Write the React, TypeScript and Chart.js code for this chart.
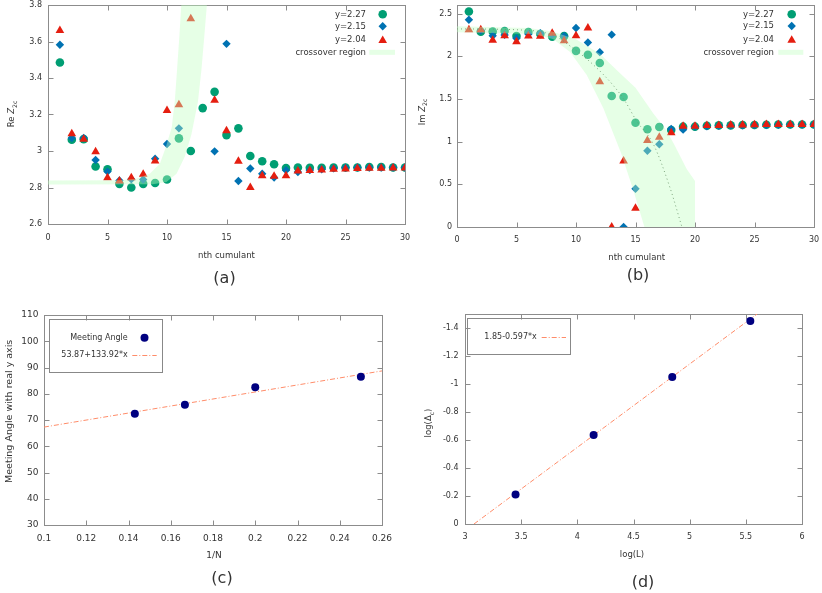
import React, { useEffect, useRef } from 'react';
import { Chart, registerables } from 'chart.js';

Chart.register(...registerables);

// ---------------- DATA ----------------
const cumulantN = [1, 2, 3, 4, 5, 6, 7, 8, 9, 10, 11, 12, 13, 14, 15, 16, 17, 18, 19, 20, 21, 22, 23, 24, 25, 26, 27, 28, 29, 30];

// (a) Re Z2c
const reZ_227 = [3.485, 3.062, 3.065, 2.915, 2.9, 2.82, 2.8, 2.82, 2.825, 2.844, 3.069, 3.0, 3.235, 3.324, 3.087, 3.124, 2.973, 2.944, 2.927, 2.907, 2.91, 2.908, 2.908, 2.91, 2.91, 2.91, 2.912, 2.912, 2.91, 2.91];
const reZ_215 = [3.582, 3.071, 3.071, 2.951, 2.887, 2.838, 2.845, 2.844, 2.958, 3.038, 3.124, null, null, 2.998, 3.587, 2.836, 2.904, 2.875, 2.855, 2.895, 2.885, 2.895, 2.9, 2.905, 2.908, 2.91, 2.91, 2.91, 2.91, 2.91];
const reZ_204 = [3.66, 3.095, 3.064, 2.996, 2.854, 2.836, 2.854, 2.873, 2.945, 3.222, 3.253, 3.725, null, 3.278, 3.111, 2.944, 2.8, 2.865, 2.862, 2.865, 2.89, 2.893, 2.896, 2.9, 2.902, 2.904, 2.905, 2.906, 2.907, 2.907];
const reBandEdge1X = [0, 6, 7.4, 8.55, 9.4, 9.9, 10.4, 10.65, 10.85, 11.05, 11.2];
const reBandEdge1Y = [2.838, 2.84, 2.848, 2.875, 2.93, 3.02, 3.13, 3.27, 3.45, 3.64, 3.8];
const reBandEdge2X = [13.35, 13.15, 12.9, 12.6, 12.05, 11.5, 10.8, 9.95, 8.8, 0];
const reBandEdge2Y = [3.8, 3.64, 3.45, 3.27, 3.09, 2.97, 2.875, 2.83, 2.818, 2.817];

// (b) Im Z2c
const imZ_227 = [2.523, 2.287, 2.29, 2.295, 2.237, 2.284, 2.26, 2.23, 2.235, 2.063, 2.017, 1.92, 1.534, 1.522, 1.221, 1.144, 1.171, 1.135, 1.175, 1.175, 1.185, 1.19, 1.19, 1.195, 1.195, 1.197, 1.2, 1.2, 1.2, 1.2];
const imZ_215 = [2.427, 2.3, 2.24, 2.25, 2.21, 2.26, 2.27, 2.25, 2.237, 2.33, 2.16, 2.048, 2.253, 0, 0.448, 0.893, 0.97, 1.148, 1.14, 1.175, 1.18, 1.185, 1.19, 1.19, 1.195, 1.195, 1.197, 1.2, 1.2, 1.2];
const imZ_204 = [2.31, 2.31, 2.187, 2.24, 2.17, 2.237, 2.233, 2.268, 2.18, 2.24, 2.33, 1.7, 0, 0.773, 0.22, 1.012, 1.051, 1.105, 1.18, 1.18, 1.19, 1.19, 1.195, 1.195, 1.197, 1.2, 1.2, 1.2, 1.2, 1.2];
const imBandEdge1X = [0, 6, 8, 10, 12, 13.7, 15, 16.5, 17.5, 18.2, 19.3, 20, 20];
const imBandEdge1Y = [2.35, 2.33, 2.29, 2.2, 2.03, 1.8, 1.63, 1.33, 1.15, 0.98, 0.68, 0.54, 0];
const imBandEdge2X = [15.75, 14.8, 13.8, 12.3, 10.9, 9.5, 8.1, 6.5, 0];
const imBandEdge2Y = [0, 0.44, 0.86, 1.39, 1.78, 2.05, 2.2, 2.26, 2.28];
const imGuideX = [0, 5, 8, 9.5, 12.2, 14, 15.1, 16.5, 17.9, 18.9];
const imGuideY = [2.32, 2.31, 2.25, 2.12, 1.8, 1.5, 1.24, 0.97, 0.46, 0];

// (c) meeting angle vs 1/N
const invN = [0.143, 0.1667, 0.2, 0.25];
const meetingAngle = [72.4, 75.8, 82.5, 86.5];
const angleFitX = [0.1, 0.26];
const angleFitY = [67.3, 88.7];

// (d) log(Delta_c) vs log(L)
const logL = [3.45, 4.145, 4.845, 5.54];
const logDelta = [-0.21, -0.635, -1.05, -1.45];
const deltaFitX = [3.08, 5.6];
const deltaFitY = [0, -1.5];

// ---------------- STYLE ----------------
const FONT = '"DejaVu Sans", sans-serif';
const TXT = '#333333';
const FRAME = '#8c8c8c';
const GREEN = '#009e73';
const BLUE = '#0072b2';
const RED = '#e51e10';
const NAVY = '#000080';
const FIT = '#ff8c69';
const BAND = 'rgba(192,255,192,0.4)';

const fmt = (v: any) => String(parseFloat(Number(v).toFixed(3)));
const pts = (xs: number[], ys: (number | null)[]) => xs.map((x, i) => ({ x, y: ys[i] }));
const poly = (x1: number[], y1: number[], x2: number[], y2: number[]) => [...pts(x1, y1), ...pts(x2, y2)];

function linAxis(o: { min: number; max: number; step: number; pad: number; size: number; x: boolean; reverse?: boolean }) {
  return {
    type: 'linear',
    position: o.x ? 'bottom' : 'left',
    min: o.min,
    max: o.max,
    reverse: !!o.reverse,
    grid: { display: false, drawTicks: false, tickLength: 0 },
    border: { display: false },
    ticks: {
      stepSize: o.step,
      includeBounds: false,
      padding: o.pad,
      autoSkip: false,
      maxRotation: 0,
      minRotation: 0,
      color: TXT,
      font: { family: FONT, size: o.size },
      callback: (v: any) => fmt(v),
    },
    afterFit: (s: any) => {
      if (o.x) s.height = 30;
      else s.width = 40;
      s.paddingLeft = 0;
      s.paddingRight = 0;
      s.paddingTop = 0;
      s.paddingBottom = 0;
    },
  };
}

const framePlugin = {
  id: 'gnuFrame',
  beforeDatasetsDraw(chart: any) {
    const { ctx, chartArea: a, scales } = chart;
    const L = Math.round(a.left) + 0.5;
    const R = Math.round(a.right) + 0.5;
    const T = Math.round(a.top) + 0.5;
    const B = Math.round(a.bottom) + 0.5;
    ctx.save();
    ctx.strokeStyle = FRAME;
    ctx.lineWidth = 1;
    ctx.strokeRect(L, T, R - L, B - T);
    const len = 5;
    ctx.beginPath();
    scales.x.ticks.forEach((t: any) => {
      const p = Math.round(scales.x.getPixelForValue(t.value)) + 0.5;
      ctx.moveTo(p, B);
      ctx.lineTo(p, B - len);
      ctx.moveTo(p, T);
      ctx.lineTo(p, T + len);
    });
    scales.y.ticks.forEach((t: any) => {
      const p = Math.round(scales.y.getPixelForValue(t.value)) + 0.5;
      ctx.moveTo(L, p);
      ctx.lineTo(L + len, p);
      ctx.moveTo(R, p);
      ctx.lineTo(R - len, p);
    });
    ctx.stroke();
    ctx.restore();
  },
};

function textC(ctx: any, s: string, x: number, y: number, size: number, align = 'center') {
  ctx.save();
  ctx.font = `${size}px ${FONT}`;
  ctx.fillStyle = TXT;
  ctx.textAlign = align;
  ctx.textBaseline = 'middle';
  ctx.fillText(s, x, y);
  ctx.restore();
}

type Part = { t: string; it?: boolean; sub?: boolean };
function rich(ctx: any, parts: Part[], cx: number, cy: number, size: number, rotate: boolean) {
  ctx.save();
  ctx.translate(cx, cy);
  if (rotate) ctx.rotate(-Math.PI / 2);
  ctx.fillStyle = TXT;
  ctx.textBaseline = 'middle';
  ctx.textAlign = 'left';
  const f = (p: Part) => `${p.it ? 'italic ' : ''}${p.sub ? size * 0.72 : size}px ${FONT}`;
  const ws = parts.map((p) => {
    ctx.font = f(p);
    return ctx.measureText(p.t).width;
  });
  let x = -ws.reduce((a, b) => a + b, 0) / 2;
  parts.forEach((p, i) => {
    ctx.font = f(p);
    ctx.fillText(p.t, x, p.sub ? size * 0.35 : 0);
    x += ws[i];
  });
  ctx.restore();
}

function marker(ctx: any, style: string, x: number, y: number, r: number, color: string) {
  ctx.save();
  ctx.fillStyle = color;
  ctx.beginPath();
  if (style === 'circle') ctx.arc(x, y, r, 0, Math.PI * 2);
  else if (style === 'rectRot') {
    ctx.moveTo(x - r, y);
    ctx.lineTo(x, y - r);
    ctx.lineTo(x + r, y);
    ctx.lineTo(x, y + r);
    ctx.closePath();
  } else {
    ctx.moveTo(x, y - r);
    ctx.lineTo(x + 0.866 * r, y + 0.5 * r);
    ctx.lineTo(x - 0.866 * r, y + 0.5 * r);
    ctx.closePath();
  }
  ctx.fill();
  ctx.restore();
}

function zLegend(ctx: any, textRight: number, symX: number, rows: number[], rectL: number, rectR: number) {
  textC(ctx, 'y=2.27', textRight, rows[0], 8.5, 'right');
  marker(ctx, 'circle', symX, rows[0], 4.3, GREEN);
  textC(ctx, 'y=2.15', textRight, rows[1], 8.5, 'right');
  marker(ctx, 'rectRot', symX, rows[1], 4.2, BLUE);
  textC(ctx, 'y=2.04', textRight, rows[2], 8.5, 'right');
  marker(ctx, 'triangle', symX, rows[2] + 1, 5, RED);
  textC(ctx, 'crossover region', textRight, rows[3], 8.5, 'right');
  ctx.save();
  ctx.fillStyle = BAND;
  ctx.fillRect(rectL, rows[3] - 2.5, rectR - rectL, 5);
  ctx.restore();
}

function fitLegend(ctx: any, box: number[], rows: { y: number; label: string; kind: string }[], textRight: number, symL: number, symR: number) {
  ctx.save();
  ctx.strokeStyle = '#888';
  ctx.lineWidth = 1;
  ctx.strokeRect(Math.round(box[0]) + 0.5, Math.round(box[1]) + 0.5, Math.round(box[2] - box[0]), Math.round(box[3] - box[1]));
  ctx.restore();
  rows.forEach((r) => {
    textC(ctx, r.label, textRight, r.y, 8, 'right');
    if (r.kind === 'dot') marker(ctx, 'circle', (symL + symR) / 2, r.y, 4, NAVY);
    else {
      ctx.save();
      ctx.strokeStyle = FIT;
      ctx.lineWidth = 1;
      ctx.setLineDash([5, 2, 1, 2]);
      ctx.beginPath();
      ctx.moveTo(symL, Math.round(r.y) + 0.5);
      ctx.lineTo(symR, Math.round(r.y) + 0.5);
      ctx.stroke();
      ctx.restore();
    }
  });
}

const pointSet = (label: string, data: any[], style: string, r: number, color: string, order: number) => ({
  label,
  data,
  showLine: false,
  pointStyle: style,
  pointRadius: r,
  pointHoverRadius: r,
  pointBackgroundColor: color,
  pointBorderWidth: 0,
  pointBorderColor: 'rgba(0,0,0,0)',
  order,
});

const bandSet = (data: any[]) => ({
  label: 'crossover region',
  data,
  showLine: true,
  fill: 'shape',
  backgroundColor: BAND,
  borderColor: 'rgba(0,0,0,0)',
  borderWidth: 0,
  pointRadius: 0,
  tension: 0,
  order: 0,
});

type Spec = {
  left: number;
  top: number;
  w: number;
  h: number;
  area: number[]; // l t r b (local)
  datasets: any[];
  x: any;
  y: any;
  deco: (ctx: any) => void;
};

const specs: Spec[] = [
  {
    left: 0,
    top: 0,
    w: 410,
    h: 300,
    area: [48, 3, 406, 224],
    datasets: [
      bandSet(poly(reBandEdge1X, reBandEdge1Y, reBandEdge2X, reBandEdge2Y)),
      pointSet('y=2.04', pts(cumulantN, reZ_204), 'triangle', 5, RED, 1),
      pointSet('y=2.15', pts(cumulantN, reZ_215), 'rectRot', 4.2, BLUE, 2),
      pointSet('y=2.27', pts(cumulantN, reZ_227), 'circle', 4.3, GREEN, 3),
    ],
    x: linAxis({ min: 0, max: 30, step: 5, pad: 9, size: 8, x: true }),
    y: linAxis({ min: 2.6, max: 3.8, step: 0.2, pad: 6, size: 8, x: false }),
    deco: (ctx) => {
      textC(ctx, 'nth cumulant', 226.5, 256, 8.5);
      textC(ctx, '(a)', 224.5, 278.5, 16);
      rich(ctx, [{ t: 'Re ' }, { t: 'Z', it: true }, { t: '2c', sub: true }], 12, 114, 8.5, true);
      zLegend(ctx, 366, 382.7, [14.3, 26.3, 39.5, 52.3], 369.3, 395);
    },
  },
  {
    left: 410,
    top: 0,
    w: 412,
    h: 300,
    area: [47, 2, 404, 227],
    datasets: [
      bandSet(poly(imBandEdge1X, imBandEdge1Y, imBandEdge2X, imBandEdge2Y)),
      {
        label: 'guide',
        data: pts(imGuideX, imGuideY),
        showLine: true,
        fill: false,
        borderColor: 'rgba(50,80,50,0.85)',
        borderWidth: 1,
        borderDash: [1, 3],
        pointRadius: 0,
        cubicInterpolationMode: 'monotone',
        order: 0,
      },
      pointSet('y=2.04', pts(cumulantN, imZ_204), 'triangle', 5, RED, 1),
      pointSet('y=2.15', pts(cumulantN, imZ_215), 'rectRot', 4.2, BLUE, 2),
      pointSet('y=2.27', pts(cumulantN, imZ_227), 'circle', 4.3, GREEN, 3),
    ],
    x: linAxis({ min: 0, max: 30, step: 5, pad: 8.5, size: 8, x: true }),
    y: linAxis({ min: 0, max: 2.6, step: 0.5, pad: 5, size: 8, x: false }),
    deco: (ctx) => {
      textC(ctx, 'nth cumulant', 226.7, 257.7, 8.5);
      textC(ctx, '(b)', 228, 275.8, 16);
      rich(ctx, [{ t: 'Im ' }, { t: 'Z', it: true }, { t: '2c', sub: true }], 12.5, 112, 8.5, true);
      zLegend(ctx, 364, 381.7, [14.3, 26, 39.3, 52.3], 368.3, 393.3);
    },
  },
  {
    left: 0,
    top: 300,
    w: 410,
    h: 293,
    area: [44, 15, 382, 225],
    datasets: [
      pointSet('Meeting Angle', pts(invN, meetingAngle), 'circle', 4, NAVY, 0),
      {
        label: '53.87+133.92*x',
        data: pts(angleFitX, angleFitY),
        showLine: true,
        fill: false,
        borderColor: FIT,
        borderWidth: 1,
        borderDash: [5, 2, 1, 2],
        pointRadius: 0,
        order: 1,
      },
    ],
    x: linAxis({ min: 0.1, max: 0.26, step: 0.02, pad: 8, size: 9, x: true }),
    y: linAxis({ min: 30, max: 110, step: 10, pad: 5.5, size: 9, x: false }),
    deco: (ctx) => {
      textC(ctx, '1/N', 214, 255.7, 9);
      textC(ctx, '(c)', 222, 278.5, 16);
      rich(ctx, [{ t: 'Meeting Angle with real y axis' }], 10, 111.3, 9.5, true);
      fitLegend(
        ctx,
        [49, 19, 161.7, 72.3],
        [
          { y: 37.7, label: 'Meeting Angle', kind: 'dot' },
          { y: 55.3, label: '53.87+133.92*x', kind: 'line' },
        ],
        127.7,
        132.3,
        156.7
      );
    },
  },
  {
    left: 410,
    top: 300,
    w: 412,
    h: 293,
    area: [55, 14, 392, 224],
    datasets: [
      pointSet('points', pts(logL, logDelta), 'circle', 4, NAVY, 0),
      {
        label: '1.85-0.597*x',
        data: pts(deltaFitX, deltaFitY),
        showLine: true,
        fill: false,
        borderColor: FIT,
        borderWidth: 1,
        borderDash: [5, 2, 1, 2],
        pointRadius: 0,
        order: 1,
      },
    ],
    x: linAxis({ min: 3, max: 6, step: 0.5, pad: 8, size: 8, x: true }),
    y: linAxis({ min: -1.5, max: 0, step: 0.2, pad: 6.5, size: 8, x: false, reverse: true }),
    deco: (ctx) => {
      textC(ctx, 'log(L)', 222, 255, 8.5);
      textC(ctx, '(d)', 233, 282.5, 16);
      rich(ctx, [{ t: 'log(Δ' }, { t: 'c', sub: true }, { t: ')' }], 19, 123, 8.5, true);
      fitLegend(ctx, [57.3, 18.3, 160.7, 54], [{ y: 36.7, label: '1.85-0.597*x', kind: 'line' }], 126.7, 131.7, 156);
    },
  },
];

function Panel({ spec }: { spec: Spec }) {
  const ref = useRef<HTMLCanvasElement>(null);
  useEffect(() => {
    const [l, t, r, b] = spec.area;
    const chart = new Chart(ref.current as HTMLCanvasElement, {
      type: 'scatter',
      data: { datasets: spec.datasets },
      options: {
        responsive: false,
        animation: false,
        events: [],
        layout: { padding: { left: l - 40, top: t, right: spec.w - r, bottom: spec.h - b - 30 } },
        plugins: { legend: { display: false }, tooltip: { enabled: false } },
        scales: { x: spec.x, y: spec.y },
      } as any,
      plugins: [framePlugin, { id: 'deco', afterDraw: (c: any) => spec.deco(c.ctx) }],
    } as any);
    return () => chart.destroy();
  }, [spec]);
  return (
    <canvas
      ref={ref}
      width={spec.w}
      height={spec.h}
      style={{ position: 'absolute', left: spec.left, top: spec.top, width: spec.w, height: spec.h }}
    />
  );
}

export default function App() {
  return (
    <div style={{ position: 'fixed', left: 0, top: 0, width: 822, height: 593, background: '#fff', overflow: 'hidden' }}>
      {specs.map((s, i) => (
        <Panel key={i} spec={s} />
      ))}
    </div>
  );
}
